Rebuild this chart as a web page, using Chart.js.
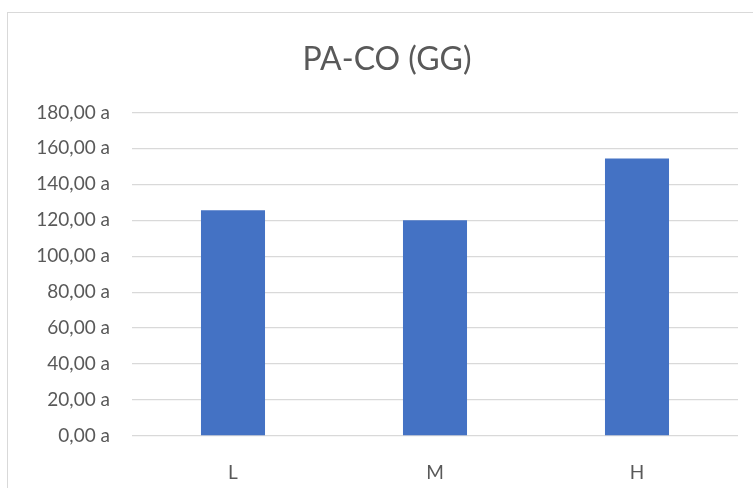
<!DOCTYPE html>
<html>
<head>
<meta charset="utf-8">
<script src="https://cdn.jsdelivr.net/npm/chart.js@4/dist/chart.umd.min.js"></script>
<style>
  html, body { margin: 0; padding: 0; background: #fff; overflow: hidden; }
  #box {
    position: absolute; left: 7px; top: 12px;
    width: 780px; height: 490px;
    border: 1px solid #d9d9d9; box-sizing: border-box;
  }
  #wrap { position: absolute; left: 0; top: 0; width: 745px; height: 475px; }
</style>
</head>
<body>
<div id="box"><div id="wrap"><canvas id="chart"></canvas></div></div>
<script>
// dữ liệu
const categories = ["L", "M", "H"];
const values = [125.6, 120.0, 154.3];
const yTickLabels = ["0,00 a", "20,00 a", "40,00 a", "60,00 a", "80,00 a",
  "100,00 a", "120,00 a", "140,00 a", "160,00 a", "180,00 a"];

const font = "Lato, 'Open Sans', sans-serif";
const textColor = "#595959";

const config = {
  type: "bar",
  data: {
    labels: categories,
    datasets: [
      {
        label: "PA-CO (GG)",
        data: values,
        backgroundColor: "#4472c4",
        barPercentage: 0.317,
        categoryPercentage: 1,
      },
    ],
  },
  options: {
    responsive: true,
    maintainAspectRatio: false,
    animation: false,
    // lề trái lớn hơn để tiêu đề lệch phải như hình gốc
    layout: { padding: { left: 28, right: 15, top: 0, bottom: 0 } },
    plugins: {
      legend: { display: false },
      tooltip: { enabled: false },
      title: {
        display: true,
        text: "PA-CO (GG)",
        color: textColor,
        font: { family: font, size: 32, weight: "normal" },
        padding: { top: 27, bottom: 34 },
      },
    },
    scales: {
      x: {
        grid: { display: false },
        border: { display: false },
        ticks: { color: textColor, font: { family: font, size: 19 }, padding: 17 },
        afterFit: (scale) => { scale.height = 52; },
      },
      y: {
        min: 0,
        max: 180,
        grid: { color: "#d9d9d9", lineWidth: 1.3, drawTicks: false },
        border: { display: false },
        ticks: {
          stepSize: 20,
          color: textColor,
          font: { family: font, size: 19 },
          padding: 22,
          callback: (value, index) => yTickLabels[index],
        },
        afterFit: (scale) => { scale.width = 96; },
      },
    },
  },
};

new Chart(document.getElementById("chart"), config);
</script>
</body>
</html>
